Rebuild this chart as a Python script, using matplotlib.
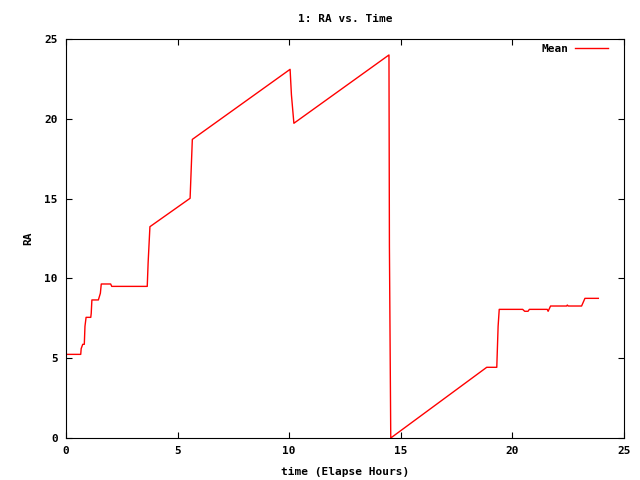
import matplotlib
matplotlib.use("Agg")
import matplotlib.pyplot as plt

# elapsed hours vs right ascension (mean)
time_h = [0.0, 0.66, 0.68, 0.75, 0.82, 0.85, 0.90, 1.11, 1.13, 1.16, 1.45, 1.54, 1.58,
          2.0, 2.05, 3.64, 3.68, 3.76, 5.56, 5.60, 5.66, 10.04, 10.10, 10.21, 14.47,
          14.49, 14.55, 18.85, 19.30, 19.36, 19.41, 20.46, 20.55, 20.70, 20.76, 21.56,
          21.60, 21.71, 22.43, 22.46, 22.50, 23.10, 23.25, 23.85]
ra_mean = [5.24, 5.24, 5.60, 5.87, 5.87, 7.00, 7.56, 7.56, 7.81, 8.65, 8.65, 9.07, 9.65,
           9.65, 9.50, 9.50, 11.0, 13.24, 15.02, 16.5, 18.71, 23.10, 21.5, 19.72, 24.0,
           12.03, 0.0, 4.43, 4.43, 7.00, 8.06, 8.06, 7.94, 7.94, 8.06, 8.06,
           7.94, 8.27, 8.27, 8.33, 8.27, 8.27, 8.75, 8.75]

xticks = [0, 5, 10, 15, 20, 25]
yticks = [0, 5, 10, 15, 20, 25]

plt.rcParams["font.family"] = "DejaVu Sans Mono"
plt.rcParams["font.weight"] = "bold"
plt.rcParams["font.size"] = 8

fig = plt.figure(figsize=(6.4, 4.8), dpi=100)
ax = fig.add_axes([66 / 640, 42 / 480, 558 / 640, 399 / 480])

ax.plot(time_h, ra_mean, color="red", linewidth=1.0, label="Mean")

ax.set_xlim(0, 25)
ax.set_ylim(0, 25)
ax.set_xticks(xticks)
ax.set_yticks(yticks)
ax.tick_params(direction="in", length=4, width=0.8, top=True, right=True, pad=6)
for spine in ax.spines.values():
    spine.set_linewidth(0.8)

ax.set_title("1: RA vs. Time", fontsize=8, fontweight="bold", pad=12)
ax.set_xlabel("time (Elapse Hours)", fontsize=8, fontweight="bold", labelpad=8)
ax.set_ylabel("RA", fontsize=8, fontweight="bold", labelpad=8)

ax.legend(loc="upper right", frameon=False, markerfirst=False, handlelength=3.0,
          handletextpad=0.6, borderaxespad=0.3, bbox_to_anchor=(0.986, 1.0075))

fig.savefig("out.png", dpi=100)
